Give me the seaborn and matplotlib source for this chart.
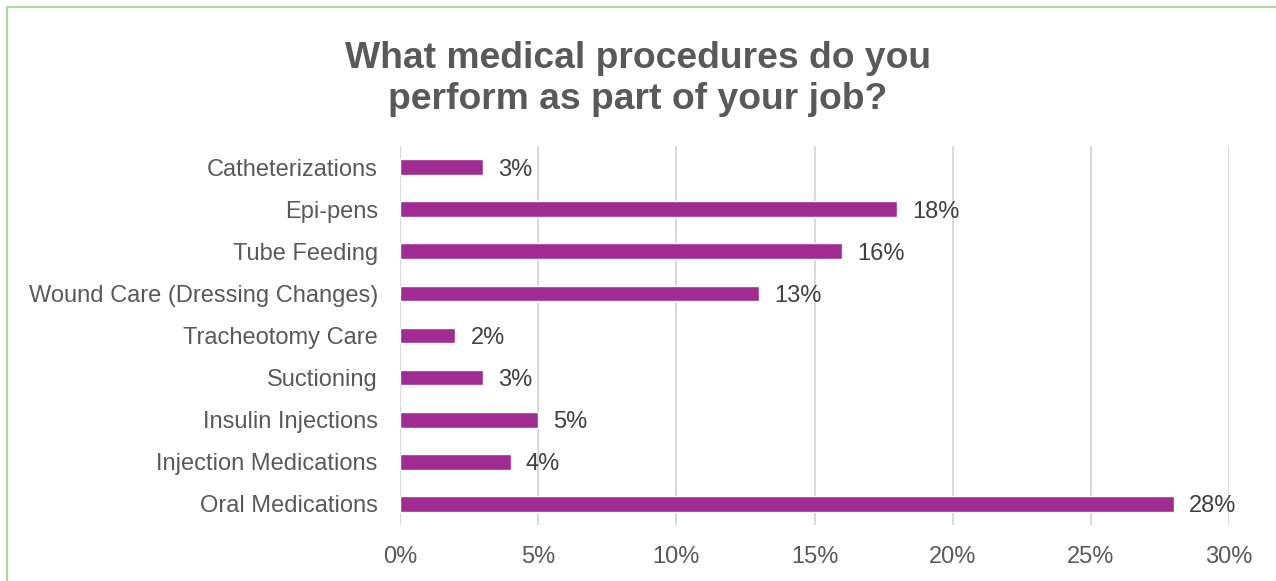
import matplotlib
matplotlib.use("Agg")
import matplotlib.pyplot as plt
from matplotlib.lines import Line2D
from matplotlib.ticker import FuncFormatter, MultipleLocator
import pandas as pd
import seaborn as sns

procedures = [
    "Catheterizations",
    "Epi-pens",
    "Tube Feeding",
    "Wound Care (Dressing Changes)",
    "Tracheotomy Care",
    "Suctioning",
    "Insulin Injections",
    "Injection Medications",
    "Oral Medications",
]
percentages = [3, 18, 16, 13, 2, 3, 5, 4, 28]
x_ticks = [0, 5, 10, 15, 20, 25, 30]

title = "What medical procedures do you\nperform as part of your job?"

sns.set_theme(style="white")
plt.rcParams["font.family"] = ["Liberation Sans", "DejaVu Sans"]

df = pd.DataFrame({"procedure": procedures, "pct": percentages})

fig = plt.figure(figsize=(12.76, 5.81), dpi=100)
ax = fig.add_axes([400 / 1276, 1 - 525 / 581, (1229 - 400) / 1276, (525 - 146) / 581])

sns.barplot(data=df, x="pct", y="procedure", orient="h", color="#A02B93",
            saturation=1, width=0.37, ax=ax, zorder=3)

ax.set_xlim(x_ticks[0], x_ticks[-1])
ax.set_ylim(len(procedures) - 0.5, -0.5)
ax.xaxis.set_major_locator(MultipleLocator(5))
ax.xaxis.set_major_formatter(FuncFormatter(lambda v, _: f"{v:.0f}%"))
ax.grid(axis="x", color="#D9D9D9", linewidth=1.5, zorder=0)
ax.set_axisbelow(True)
for side in ["top", "right", "bottom", "left"]:
    ax.spines[side].set_visible(False)
ax.set_xlabel("")
ax.set_ylabel("")
ax.tick_params(axis="x", length=0, pad=15, labelsize=17, labelcolor="#595959")
ax.tick_params(axis="y", length=0, pad=16, labelsize=17, labelcolor="#595959")

for i, v in enumerate(percentages):
    ax.text(v + 0.55, i, f"{v}%", va="center_baseline", ha="left", fontsize=17, color="#404040")

fig.text(0.5, 1 - 79 / 581, title, ha="center", va="center", fontsize=26.8,
         fontweight="bold", color="#595959", linespacing=1.25)

# green frame along the top and left edges
fig.add_artist(Line2D([7 / 1276, 1], [1 - 7 / 581, 1 - 7 / 581], transform=fig.transFigure,
                      color="#A9DC96", linewidth=1.5))
fig.add_artist(Line2D([7 / 1276, 7 / 1276], [0, 1 - 7 / 581], transform=fig.transFigure,
                      color="#A9DC96", linewidth=1.5))

fig.savefig("out.png", dpi=100, facecolor="white")
